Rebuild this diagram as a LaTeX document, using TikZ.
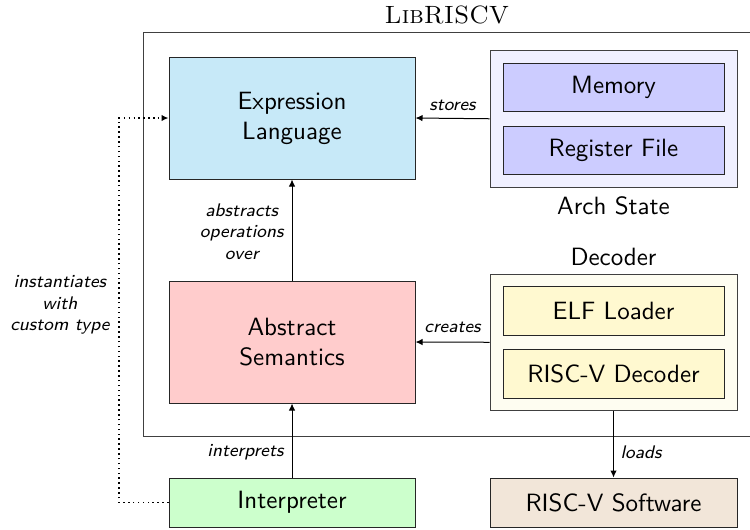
\documentclass[tikz,border=0pt]{standalone}
\usetikzlibrary{arrows.meta}
\definecolor{exprblue}{RGB}{199,233,248}
\definecolor{abspink}{RGB}{255,204,204}
\definecolor{intgreen}{RGB}{204,255,204}
\definecolor{memblue}{RGB}{204,204,255}
\definecolor{archbg}{RGB}{240,240,255}
\definecolor{decyellow}{RGB}{255,249,208}
\definecolor{decbg}{RGB}{254,253,241}
\definecolor{swbrown}{RGB}{242,230,217}
\begin{document}
\begin{tikzpicture}[x=0.4pt,y=-0.4pt,
  mainbox/.style={draw=black!85, line width=0.4pt, inner sep=0pt, align=center,
    minimum width=98.4pt, font=\sffamily\fontsize{10}{12}\selectfont},
  innerbox/.style={draw=black!85, line width=0.4pt, inner sep=0pt, align=center,
    minimum width=88.4pt, minimum height=19.2pt, font=\sffamily\fontsize{10}{12}\selectfont},
  container/.style={draw=black!75, line width=0.4pt, inner sep=0pt, minimum width=98.8pt},
  lbl/.style={font=\sffamily\itshape\fontsize{7.3}{8.7}\selectfont, align=center, inner sep=0pt},
  plain/.style={font=\sffamily\fontsize{10}{12}\selectfont, inner sep=0pt},
  arr/.style={line width=0.4pt, -{Latex[length=2.8pt,width=2.6pt]}},
  dotarr/.style={line width=0.6pt, dash pattern=on 0.6pt off 1.35pt, -{Latex[length=2.8pt,width=2.6pt]}}
]
\useasboundingbox (0,0) rectangle (750,529);

% outer frame
\node[draw=black!75, line width=0.4pt, inner sep=0pt, minimum width=243pt, minimum height=161.6pt] (frame) at (447.75,234) {};
\node[font=\rmfamily\fontsize{10}{12}\selectfont, inner sep=0pt] (title) at (447,15) {\textsc{LibRISCV}};

% main boxes
\node[mainbox, fill=exprblue, minimum height=48.8pt] (expr) at (292,118) {Expression\\Language};
\node[mainbox, fill=abspink, minimum height=48.8pt] (abs) at (292,342) {Abstract\\Semantics};
\node[mainbox, fill=intgreen, minimum height=19.6pt] (interp) at (292,502.5) {Interpreter};
\node[mainbox, fill=swbrown, minimum width=98.8pt, minimum height=19.6pt] (sw) at (613.5,502.5) {RISC-V Software};

% arch state
\node[container, fill=archbg, minimum height=55pt] (arch) at (613.5,118.75) {};
\node[innerbox, fill=memblue] (mem) at (613.5,87) {Memory};
\node[innerbox, fill=memblue] (reg) at (613.5,150) {Register File};
\node[plain] (archlbl) at (613.5,206) {Arch State};

% decoder
\node[plain] (declbl) at (613.5,257) {Decoder};
\node[container, fill=decbg, minimum height=54.6pt] (dec) at (613.5,342.25) {};
\node[innerbox, fill=decyellow, minimum height=19.6pt] (elf) at (613.5,310.5) {ELF Loader};
\node[innerbox, fill=decyellow, minimum height=19.6pt] (rvdec) at (613.5,373.5) {RISC-V Decoder};

% connectors
\draw[arr] (arch.west) -- (expr.east);
\node[lbl] (stores) at (452.5,105) {stores};
\draw[arr] (dec.west) -- (abs.east);
\node[lbl] (creates) at (452.5,327) {creates};
\draw[arr] (abs.north) -- (expr.south);
\node[lbl, anchor=east] (absops) at (284,231.5) {abstracts\\operations\\over};
\draw[arr] (interp.north) -- (abs.south);
\node[lbl, anchor=east] (interps) at (284,452) {interprets};
\draw[arr] (dec.south) -- (sw.north);
\node[lbl, anchor=west] (loads) at (620,452) {loads};

\coordinate (c1) at (119,502.5);
\coordinate (c2) at (119,118);
\draw[dotarr] (interp.west) -- (c1) -- (c2) -- (expr.west);
\node[lbl, anchor=east] (inst) at (110,305) {instantiates\\with\\custom type};
\end{tikzpicture}
\end{document}
